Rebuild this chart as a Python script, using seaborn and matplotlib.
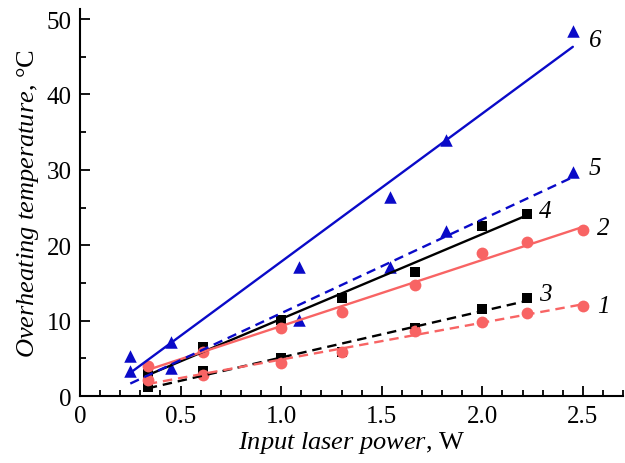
import numpy as np
import pandas as pd
import matplotlib
matplotlib.use("Agg")
import matplotlib.pyplot as plt
from matplotlib.ticker import MultipleLocator
import seaborn as sns

# series: power (W) and overheating temperature (C)
x_tri = [0.25, 0.45, 1.09, 1.54, 1.82, 2.45]
y6 = [5.3, 7.2, 17.1, 26.4, 34.0, 48.4]
y5 = [3.3, 3.8, 10.1, 17.1, 21.9, 29.7]

x_sq = [0.337, 0.61, 1.0, 1.30, 1.667, 2.0, 2.22]
y4 = [2.9, 6.5, 10.1, 13.0, 16.4, 22.6, 24.2]
y3 = [1.2, 3.3, 5.0, 5.8, 9.1, 11.6, 13.0]

x_ci = [0.337, 0.61, 1.0, 1.30, 1.667, 2.0, 2.22, 2.5]
y2 = [4.0, 5.8, 9.1, 11.1, 14.8, 19.0, 20.4, 22.0]
y1 = [2.1, 2.8, 4.4, 5.8, 8.6, 9.9, 11.0, 12.0]

labels = ['1', '2', '3', '4', '5', '6']
xtick_labels = ['0', '0.5', '1.0', '1.5', '2.0', '2.5']

sns.set_style("ticks", {'axes.edgecolor': 'black', 'text.color': 'black',
                        'xtick.color': 'black', 'ytick.color': 'black',
                        'axes.labelcolor': 'black'})
plt.rcParams['font.family'] = ['Liberation Serif', 'DejaVu Serif']
plt.rcParams['mathtext.fontset'] = 'custom'
plt.rcParams['mathtext.rm'] = 'Liberation Serif'
plt.rcParams['mathtext.it'] = 'Liberation Serif:italic'

blue = '#0a0ac8'
red = '#f86464'
black = '#000000'

fig = plt.figure(figsize=(6.25, 4.64), dpi=100)
ax = fig.add_axes([0.128, 0.144, 0.869, 0.834])

series = [
    (x_sq, y3, black, 's', 7.5, '--'),
    (x_sq, y4, black, 's', 7.5, '-'),
    (x_ci, y1, red, 'o', 8.5, '--'),
    (x_ci, y2, red, 'o', 8.5, '-'),
    (x_tri, y5, blue, '^', 9, '--'),
    (x_tri, y6, blue, '^', 9, '-'),
]
for xs, ys, c, m, ms, ls in series:
    df = pd.DataFrame({'P': xs, 'T': ys})
    sns.regplot(data=df, x='P', y='T', ax=ax, ci=None, marker=m, color=c,
                scatter_kws={'s': ms ** 2, 'alpha': 1, 'linewidths': 0},
                line_kws={'lw': 1.7, 'ls': ls,
                          'dashes': (4, 2.5) if ls == '--' else (None, None)})

# curve numbers
label_pos = {'1': (2.57, 12.0), '2': (2.57, 22.3), '3': (2.28, 13.6),
             '4': (2.28, 24.6), '5': (2.53, 30.3), '6': (2.53, 47.2)}
for lab in labels:
    lx, ly = label_pos[lab]
    ax.text(lx, ly, lab, fontsize=18, style='italic', va='center', ha='left')

ax.set_xlim(0, 2.70)
ax.set_ylim(0, 51.3)
ax.set_xticks([0, 0.5, 1.0, 1.5, 2.0, 2.5])
ax.set_xticklabels(xtick_labels)
ax.xaxis.set_minor_locator(MultipleLocator(0.1))
ax.yaxis.set_major_locator(MultipleLocator(10))
ax.yaxis.set_minor_locator(MultipleLocator(5))
ax.tick_params(which='both', direction='in', labelsize=18, width=1.3,
               color='black', labelcolor='black')
ax.tick_params(which='major', length=7, pad=6)
ax.tick_params(which='minor', length=4)
for s in ['left', 'bottom']:
    ax.spines[s].set_linewidth(1.5)
    ax.spines[s].set_color('black')
sns.despine(ax=ax)

ax.set_xlabel(r'$\it{Input\ laser\ power}$, W', fontsize=19, labelpad=2,
              color='black')
ax.set_ylabel(r'$\it{Overheating\ temperature}$, °C', fontsize=19,
              labelpad=4, color='black')

fig.savefig('out.png', dpi=100)
